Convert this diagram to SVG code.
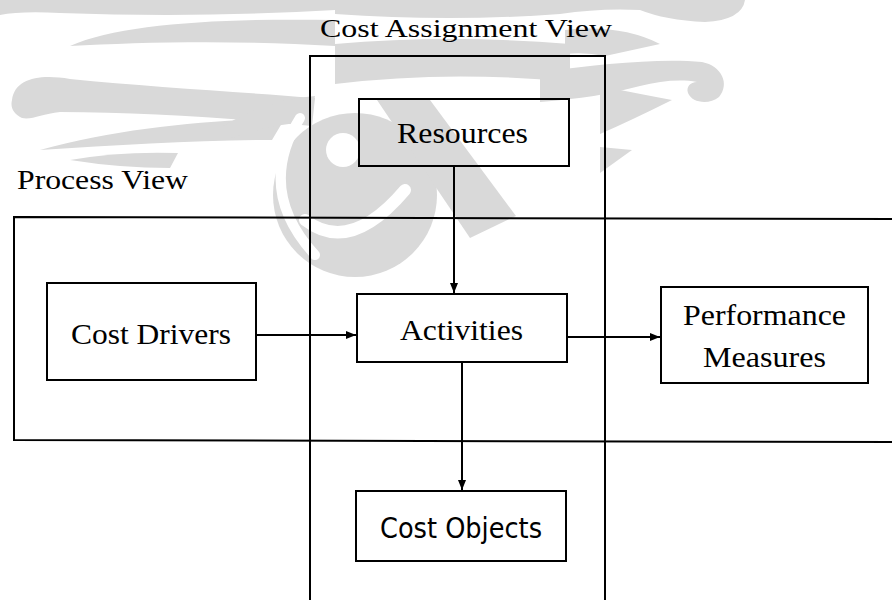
<svg xmlns="http://www.w3.org/2000/svg" width="892" height="600" viewBox="0 0 892 600">
  <style>
    .frame { fill: none; stroke: #000; stroke-width: 2; }
    .box { fill: #fff; stroke: #000; stroke-width: 2; }
    .box-clear { fill: none; stroke: #000; stroke-width: 2; }
    .edge { fill: none; stroke: #000; stroke-width: 2; }
    .serif { font-family: "Liberation Serif", "Times New Roman", serif; fill: #000; }
    .sans { font-family: "DejaVu Sans", "Liberation Sans", sans-serif; fill: #000; }
    .wm { fill: #d9d9d9; }
    .wm-cut { fill: none; stroke: #fff; stroke-linecap: round; }
  </style>
  <defs>
    <marker id="arrow" viewBox="0 0 10 8" refX="10" refY="4" markerWidth="10" markerHeight="8" markerUnits="userSpaceOnUse" orient="auto">
      <path d="M0,0 L10,4 L0,8 Z" fill="#000"/>
    </marker>
  </defs>

  <rect width="892" height="600" fill="#fff"/>

  <!-- background emblem, pale grey -->
  <g id="emblem">
    <!-- left wing -->
    <path class="wm" d="M0 0 H335 V10 Q200 18 60 13 Q20 11 0 15 Z"/>
    <path class="wm" d="M70 46 C120 24 220 18 335 20 L335 46 C240 40 140 42 70 46 Z"/>
    <path class="wm" d="M12 100 C15 78 40 74 70 79 C150 87 240 92 315 98 L312 126 C230 118 140 112 60 112 C42 114 32 120 22 118 C14 114 10 108 12 100 Z"/>
    <path class="wm" d="M40 150 C120 128 200 121 285 118 L272 140 C200 140 120 145 40 150 Z"/>
    <path class="wm" d="M70 160 Q120 151 178 153 L170 168 Q120 168 70 160 Z"/>
    <!-- upper middle -->
    <path class="wm" d="M335 0 H560 V14 Q450 22 335 14 Z"/>
    <path class="wm" d="M335 44 Q450 34 570 44 L570 82 Q450 70 335 84 Z"/>
    <!-- right wing -->
    <path class="wm" d="M560 0 H745 Q742 20 705 22 Q665 20 640 10 Q600 8 560 14 Z"/>
    <path class="wm" d="M565 30 Q620 24 660 44 L605 56 Q585 52 565 54 Z"/>
    <path class="wm" d="M540 72 C600 64 660 58 702 62 C722 66 730 84 719 97 C709 105 692 103 688 93 C686 87 690 82 697 82 C680 79 660 81 640 86 C610 94 580 99 540 102 Z"/>
    <path class="wm" d="M600 86 Q640 94 672 100 Q632 120 600 134 Z"/>
    <path class="wm" d="M600 147 L632 150 L600 173 Z"/>
    <!-- centre roundel -->
    <circle class="wm" cx="355" cy="195" r="82"/>
    <polygon class="wm" points="377,100 430,100 516,216 470,238"/>
    <path class="wm" d="M220 128 Q265 100 315 96 L310 122 Q270 124 232 138 Z"/>
    <circle cx="343" cy="150" r="17" fill="#fff"/>
    <path class="wm-cut" stroke-width="12" d="M305 220 Q350 255 405 190"/>
    <path class="wm-cut" stroke-width="10" d="M300 118 Q255 190 315 255"/>
  </g>

  <!-- view frames -->
  <g id="process-view">
    <path class="frame" d="M892 219 L14 217 L14 440 L892 442"/>
    <text class="serif" x="17" y="189" font-size="28" textLength="171" lengthAdjust="spacingAndGlyphs">Process View</text>
  </g>
  <g id="cost-assignment-view">
    <path class="frame" d="M310 600 L310 56 L605 56 L605 600"/>
    <text class="serif" x="320" y="37" font-size="26" textLength="292" lengthAdjust="spacingAndGlyphs">Cost Assignment View</text>
  </g>

  <!-- connectors -->
  <g id="connectors">
    <path class="edge" d="M454 166 V293" marker-end="url(#arrow)"/>
    <path class="edge" d="M256 335 H356" marker-end="url(#arrow)"/>
    <path class="edge" d="M567 337 H660" marker-end="url(#arrow)"/>
    <path class="edge" d="M462 362 V490" marker-end="url(#arrow)"/>
  </g>

  <!-- nodes -->
  <g id="resources">
    <rect class="box-clear" x="359" y="99" width="210" height="67"/>
    <text class="serif" x="397" y="143" font-size="29" textLength="131" lengthAdjust="spacingAndGlyphs">Resources</text>
  </g>
  <g id="cost-drivers">
    <rect class="box" x="47" y="283" width="209" height="97"/>
    <text class="serif" x="71" y="344" font-size="30" textLength="160" lengthAdjust="spacingAndGlyphs">Cost Drivers</text>
  </g>
  <g id="activities">
    <rect class="box" x="357" y="294" width="210" height="68"/>
    <text class="serif" x="400" y="340" font-size="30" textLength="123" lengthAdjust="spacingAndGlyphs">Activities</text>
  </g>
  <g id="performance-measures">
    <rect class="box" x="661" y="287" width="207" height="96"/>
    <text class="serif" x="683" y="325" font-size="29" textLength="163" lengthAdjust="spacingAndGlyphs">Performance</text>
    <text class="serif" x="703" y="367" font-size="29" textLength="123" lengthAdjust="spacingAndGlyphs">Measures</text>
  </g>
  <g id="cost-objects">
    <rect class="box" x="356" y="491" width="210" height="70"/>
    <text class="sans" x="380" y="538" font-size="28" textLength="162" lengthAdjust="spacingAndGlyphs">Cost Objects</text>
  </g>
</svg>
